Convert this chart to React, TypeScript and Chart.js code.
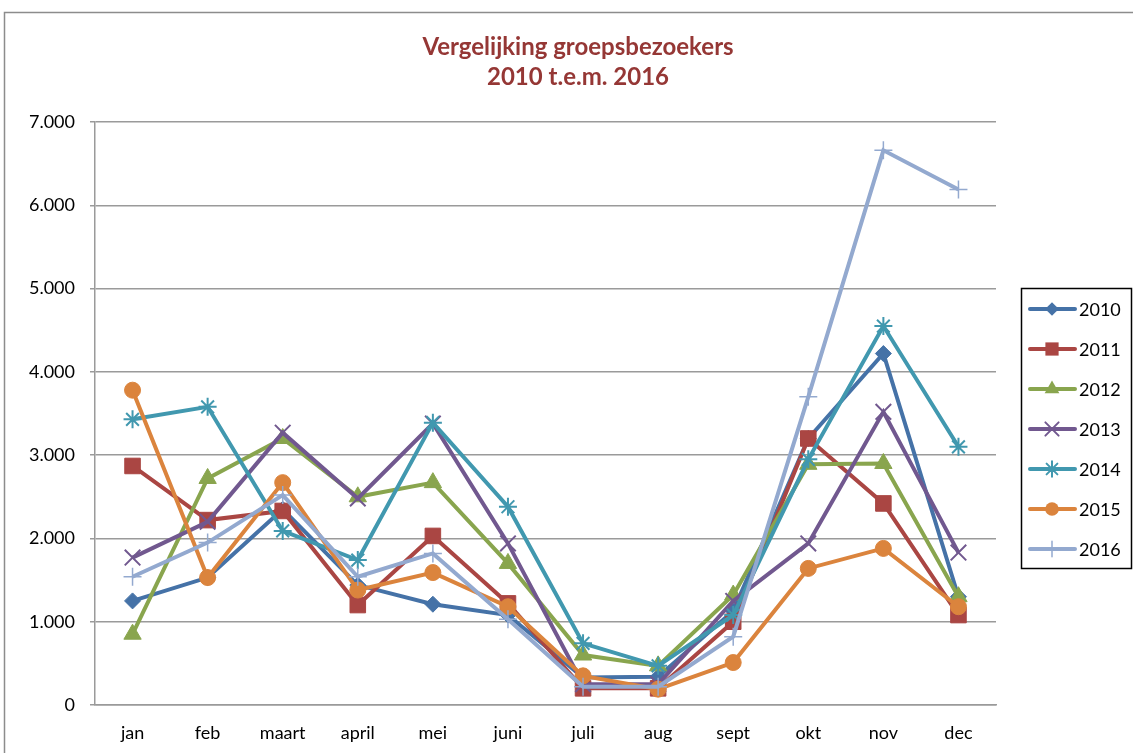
import React, { useEffect, useRef } from "react";
import { Chart, registerables } from "chart.js";

Chart.register(...registerables);

const months = ["jan", "feb", "maart", "april", "mei", "juni", "juli", "aug", "sept", "okt", "nov", "dec"];
const years = ["2010", "2011", "2012", "2013", "2014", "2015", "2016"];
const s2010 = [1250, 1530, 2350, 1440, 1210, 1080, 330, 340, 1130, 3200, 4220, 1300];
const s2011 = [2870, 2220, 2330, 1200, 2030, 1220, 200, 200, 1000, 3200, 2420, 1080];
const s2012 = [850, 2720, 3200, 2500, 2670, 1700, 600, 470, 1320, 2890, 2900, 1300];
const s2013 = [1770, 2200, 3270, 2480, 3380, 1940, 250, 250, 1250, 1940, 3520, 1830];
const s2014 = [3430, 3580, 2090, 1740, 3390, 2380, 740, 470, 1080, 2950, 4550, 3100];
const s2015 = [3780, 1530, 2670, 1380, 1590, 1180, 350, 190, 510, 1640, 1880, 1180];
const s2016 = [1540, 1950, 2520, 1540, 1820, 1030, 220, 220, 820, 3700, 6660, 6190];
const seriesValues = [s2010, s2011, s2012, s2013, s2014, s2015, s2016];
const colors = ["#4572A7", "#AA4643", "#89A54E", "#71588F", "#4198AF", "#DB843D", "#93A9CF"];
const pointStyles = ["rectRot", "rect", "triangle", "crossRot", "star", "circle", "cross"];
const pointRadii = [8, 11, 10, 11, 9, 8, 9];
const pointBorders = [1, 1, 1, 2, 2, 1, 1.5];
const titleLines = ["Vergelijking groepsbezoekers", "2010 t.e.m. 2016"];

const FONT = 'Lato, "Liberation Sans", sans-serif';

function drawMarker(ctx: CanvasRenderingContext2D, style: string, x: number, y: number, r: number, color: string, bw: number) {
  ctx.save();
  ctx.fillStyle = color;
  ctx.strokeStyle = color;
  ctx.lineWidth = bw;
  ctx.beginPath();
  if (style === "rectRot") {
    ctx.moveTo(x - r, y);
    ctx.lineTo(x, y - r);
    ctx.lineTo(x + r, y);
    ctx.lineTo(x, y + r);
    ctx.closePath();
    ctx.fill();
  } else if (style === "rect") {
    const s = r * Math.SQRT1_2;
    ctx.rect(x - s, y - s, 2 * s, 2 * s);
    ctx.fill();
  } else if (style === "triangle") {
    for (let i = 0; i < 3; i++) {
      const a = (i * 2 * Math.PI) / 3;
      const px = x + Math.sin(a) * r;
      const py = y - Math.cos(a) * r;
      if (i === 0) ctx.moveTo(px, py);
      else ctx.lineTo(px, py);
    }
    ctx.closePath();
    ctx.fill();
  } else if (style === "circle") {
    ctx.arc(x, y, r, 0, Math.PI * 2);
    ctx.fill();
  } else {
    const d = r * Math.SQRT1_2;
    if (style === "crossRot" || style === "star") {
      ctx.moveTo(x - d, y - d);
      ctx.lineTo(x + d, y + d);
      ctx.moveTo(x - d, y + d);
      ctx.lineTo(x + d, y - d);
    }
    if (style === "cross" || style === "star") {
      ctx.moveTo(x, y - r);
      ctx.lineTo(x, y + r);
      ctx.moveTo(x - r, y);
      ctx.lineTo(x + r, y);
    }
    ctx.stroke();
  }
  ctx.restore();
}

const decorPlugin = {
  id: "decor",
  afterDraw(chart: any) {
    const ctx: CanvasRenderingContext2D = chart.ctx;
    ctx.save();
    // outer frame
    ctx.strokeStyle = "#8c8c8c";
    ctx.lineWidth = 1.5;
    ctx.strokeRect(4.5, 12.5, 1200, 900);
    // title
    ctx.fillStyle = "#953735";
    ctx.font = `bold 24px ${FONT}`;
    ctx.textAlign = "center";
    ctx.textBaseline = "middle";
    ctx.fillText(titleLines[0], 578, 47);
    ctx.fillText(titleLines[1], 578, 77);
    // legend
    ctx.strokeStyle = "#000";
    ctx.lineWidth = 1.5;
    ctx.strokeRect(1021.5, 288.5, 110, 280);
    ctx.font = `18px ${FONT}`;
    ctx.textAlign = "left";
    ctx.fillStyle = "#000";
    years.forEach((yr, i) => {
      const cy = 309 + i * 40;
      ctx.strokeStyle = colors[i];
      ctx.lineWidth = 4;
      ctx.lineCap = "round";
      ctx.beginPath();
      ctx.moveTo(1030, cy);
      ctx.lineTo(1075, cy);
      ctx.stroke();
      drawMarker(ctx, pointStyles[i], 1052, cy, pointRadii[i] * 0.85, colors[i], pointBorders[i]);
      ctx.fillStyle = "#000";
      ctx.fillText(yr, 1079, cy + 1);
    });
    ctx.restore();
  },
};

function fmt(v: number) {
  const s = String(Math.round(v));
  return s.replace(/\B(?=(\d{3})+(?!\d))/g, ".");
}

export default function App() {
  const ref = useRef<HTMLCanvasElement | null>(null);
  useEffect(() => {
    if (!ref.current) return;
    const chart = new Chart(ref.current, {
      type: "line",
      data: {
        labels: months,
        datasets: years.map((yr, i) => ({
          label: yr,
          data: seriesValues[i],
          borderColor: colors[i],
          backgroundColor: colors[i],
          borderWidth: 4,
          pointStyle: pointStyles[i] as any,
          pointRadius: pointRadii[i],
          pointBackgroundColor: colors[i],
          pointBorderColor: colors[i],
          pointBorderWidth: pointBorders[i],
          tension: 0,
          fill: false,
          order: 10 - i,
        })),
      },
      options: {
        responsive: false,
        animation: false,
        devicePixelRatio: 1,
        layout: { padding: { left: 0, right: 137, top: 122, bottom: 0 } },
        plugins: {
          legend: { display: false },
          title: { display: false },
          tooltip: { enabled: false },
        },
        scales: {
          x: {
            offset: true,
            grid: { display: false, drawTicks: false },
            border: { display: true, color: "#9a9a9a", width: 1.5 },
            ticks: { color: "#000", font: { family: FONT, size: 18 }, padding: 17, maxRotation: 0 },
            afterFit: (scale: any) => {
              scale.height = 48;
            },
          },
          y: {
            min: 0,
            max: 7000,
            ticks: {
              stepSize: 1000,
              color: "#000",
              font: { family: FONT, size: 18 },
              padding: 15,
              callback: (v: any) => fmt(Number(v)),
            },
            grid: { color: "#9a9a9a", lineWidth: 1.5, tickLength: 5 },
            border: { display: true, color: "#9a9a9a", width: 1.5 },
            afterFit: (scale: any) => {
              scale.width = 95;
            },
          },
        },
      },
      plugins: [decorPlugin],
    });
    return () => chart.destroy();
  }, []);
  return (
    <div style={{ position: "fixed", left: 0, top: 0, width: 1133, height: 753, background: "#fff" }}>
      <canvas ref={ref} width={1133} height={753} />
    </div>
  );
}
